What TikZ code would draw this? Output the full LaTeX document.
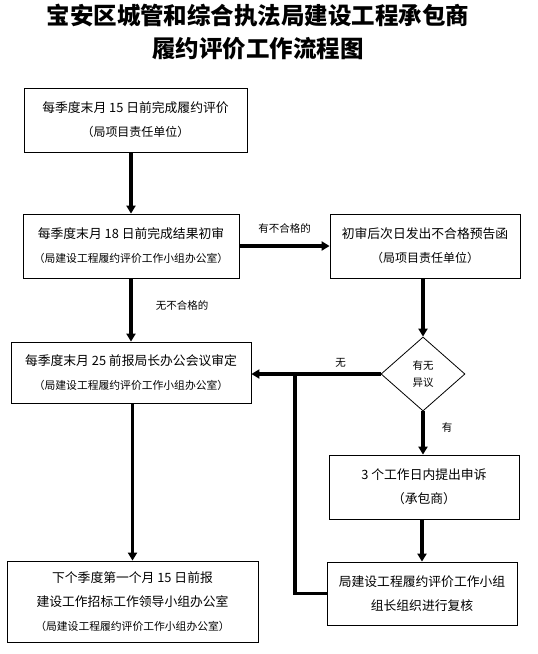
\documentclass[tikz,border=0pt]{standalone}
\usepackage{fontspec}
\newfontfamily\cjk{Noto Sans CJK SC}
\usepackage{tikz}
\usetikzlibrary{arrows.meta,positioning,shapes.geometric}

\newcommand{\subline}{\fontsize{10.8}{24}\selectfont}

\begin{document}
\begin{tikzpicture}[x=1pt, y=-1pt,
	box/.style={draw, line width=0.8pt, rectangle, align=center, inner sep=0pt, font=\cjk\fontsize{12.8}{24}\selectfont},
	decision/.style={draw, line width=0.8pt, diamond, align=center, inner sep=0pt, minimum width=84pt, minimum height=74pt, font=\cjk\fontsize{10.5}{17}\selectfont},
	note/.style={font=\cjk\fontsize{10.5}{12}\selectfont, inner sep=0pt},
	flow/.style={line width=3.5pt, -{Triangle[length=8pt, width=9pt]}},
	flowline/.style={line width=3.5pt}]
		
		\useasboundingbox (0,0) rectangle (538,654);
		
		% Title
		\node[align=center, inner sep=0pt, font=\cjk\bfseries\fontsize{23.5}{33}\selectfont] (title) at (258,32.5) {宝安区城管和综合执法局建设工程承包商\\履约评价工作流程图};
		
		% Nodes
		\node[box, minimum width=223pt, minimum height=64pt] (eval) at (135.5,120) {每季度末月 15 日前完成履约评价\\{\fontsize{12}{24}\selectfont（局项目责任单位）}};
		\node[box, minimum width=216pt, minimum height=64pt] (review) at (131,246) {每季度末月 18 日前完成结果初审\\{\subline（局建设工程履约评价工作小组办公室）}};
		\node[box, minimum width=190pt, minimum height=64pt] (notice) at (425,246) {初审后次日发出不合格预告函\\{\fontsize{12}{24}\selectfont（局项目责任单位）}};
		\node[box, minimum width=240pt, minimum height=61pt] (meeting) at (131,372.5) {每季度末月 25 前报局长办公会议审定\\{\subline（局建设工程履约评价工作小组办公室）}};
		\node[decision] (objection) at (423,374) {有无\\异议};
		\node[box, minimum width=190pt, minimum height=64pt] (appeal) at (424,487) {3 个工作日内提出申诉\\（承包商）};
		\node[box, minimum width=190pt, minimum height=63pt] (recheck) at (422,593.5) {局建设工程履约评价工作小组\\组长组织进行复核};
		\node[box, minimum width=251pt, minimum height=81pt] (report) at (132.5,601.5) {下个季度第一个月 15 日前报\\建设工作招标工作领导小组办公室\\{\subline（局建设工程履约评价工作小组办公室）}};
		
		\coordinate (join) at (295,0);
		
		% Arrows with Labels
		\draw[flow] (eval.south -| review) -- (review);
		\draw[flow] (review) -- (notice) node[note, midway, above=11pt] {有不合格的};
		\draw[flow] (review) -- (meeting) node[note, midway, right=23pt, yshift=5pt] {无不合格的};
		\draw[flow] (notice.south -| objection) -- (objection);
		\draw[flow] (objection.west) -- (objection.west -| meeting.east) node[note, pos=0.31, above=5pt] {无};
		\draw[flow] (objection) -- (objection |- appeal.north) node[note, midway, right=17pt, yshift=6pt] {有};
		\draw[flow] (appeal.south -| recheck) -- (recheck);
		\draw[flowline] (recheck.west) -| (join |- objection.west);
		\draw[flow] (meeting.south -| report) -- (report);
		
	\end{tikzpicture}
\end{document}
